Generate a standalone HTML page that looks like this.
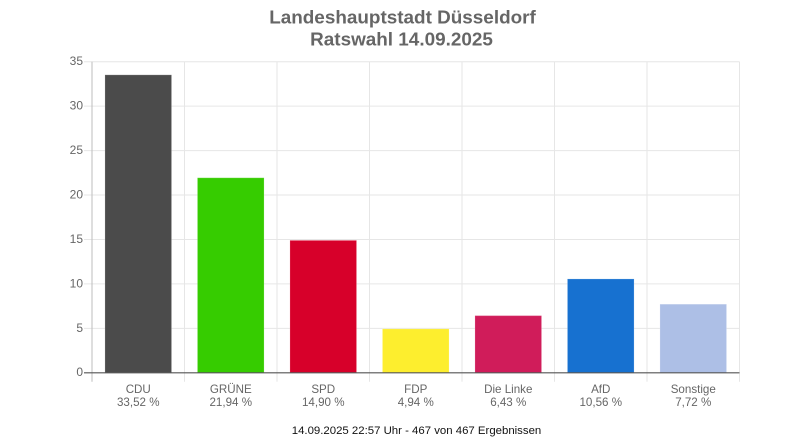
<!DOCTYPE html>
<html lang="de">
<head>
<meta charset="utf-8">
<title>Landeshauptstadt Düsseldorf – Ratswahl 14.09.2025</title>
<style>
html,body{margin:0;padding:0;background:#fff;width:800px;height:445px;overflow:hidden}
svg{display:block;filter:blur(0.35px)}
text{font-family:"Liberation Sans",Arial,sans-serif}
</style>
</head>
<body>
<svg id="chart" xmlns="http://www.w3.org/2000/svg" width="800" height="445" viewBox="0 0 800 445">
  <text x="402.5" y="23.5" text-anchor="middle" font-size="18.9" font-weight="bold" fill="#666">Landeshauptstadt Düsseldorf</text>
  <text x="401.5" y="45.5" text-anchor="middle" font-size="18.9" font-weight="bold" fill="#666">Ratswahl 14.09.2025</text>
  <text x="416.5" y="434" text-anchor="middle" font-size="11.4" fill="#111">14.09.2025 22:57 Uhr - 467 von 467 Ergebnissen</text>
  <g id="grid"></g>
  <g id="bars"></g>
  <g id="axes"></g>
</svg>
<script>
const categories = ["CDU", "GRÜNE", "SPD", "FDP", "Die Linke", "AfD", "Sonstige"];
const seriesValues = [33.52, 21.94, 14.90, 4.94, 6.43, 10.56, 7.72];
const valueLabels = ["33,52 %", "21,94 %", "14,90 %", "4,94 %", "6,43 %", "10,56 %", "7,72 %"];
const barColors = ["#4b4b4b", "#36cc00", "#d7002a", "#fdee2e", "#d01c5a", "#1771d0", "#adbfe6"];
const yTicks = [0, 5, 10, 15, 20, 25, 30, 35];

const SVG_NS = "http://www.w3.org/2000/svg";
const plotLeft = 92, plotRight = 739.5, plotTop = 61.7, plotBottom = 372.8;
const yMax = yTicks[yTicks.length - 1];
const bandWidth = (plotRight - plotLeft) / categories.length;
const barWidth = bandWidth * 0.72;

function yScale(v) { return plotBottom - (v / yMax) * (plotBottom - plotTop); }
function xBand(i) { return plotLeft + i * bandWidth; }
function make(tag, attrs, parent) {
  const el = document.createElementNS(SVG_NS, tag);
  for (const k in attrs) el.setAttribute(k, attrs[k]);
  parent.appendChild(el);
  return el;
}

const grid = document.getElementById("grid");
const barsGroup = document.getElementById("bars");
const axes = document.getElementById("axes");

yTicks.forEach(function (t) {
  const y = yScale(t);
  if (t !== 0) {
    const line = make("line", { x1: plotLeft - 8, x2: plotRight, y1: y, y2: y, stroke: "#e6e6e6", "stroke-width": 1 }, grid);
    
    
  }
  const label = make("text", { x: plotLeft - 9, y: y + 3.4, "text-anchor": "end", "font-size": 12, fill: "#666" }, axes);
  label.textContent = String(t);
  
  
});

for (let i = 1; i <= categories.length; i++) {
  const x = xBand(i);
  const line = make("line", { x1: x, x2: x, y1: plotTop, y2: plotBottom + 9, stroke: "#e6e6e6", "stroke-width": 1 }, grid);
  
  
}

categories.forEach(function (name, i) {
  const center = xBand(i) + bandWidth / 2;
  const top = yScale(seriesValues[i]);
  const bar = make("rect", {
    x: center - barWidth / 2, y: top,
    width: barWidth, height: plotBottom - top,
    fill: barColors[i], stroke: "rgba(255,255,255,0.18)", "stroke-width": 1
  }, barsGroup);
  
  

  const catLabel = make("text", { x: center, y: 393, "text-anchor": "middle", "font-size": 11.6, fill: "#666" }, axes);
  catLabel.textContent = name;
  
  

  const valLabel = make("text", { x: center, y: 406, "text-anchor": "middle", "font-size": 11.6, fill: "#666" }, axes);
  valLabel.textContent = valueLabels[i];
  
  
});

const yAxis = make("line", { x1: plotLeft, x2: plotLeft, y1: plotTop, y2: plotBottom + 9, stroke: "#bdbdbd", "stroke-width": 1 }, axes);



const xAxis = make("line", { x1: plotLeft - 8, x2: plotRight, y1: plotBottom, y2: plotBottom, stroke: "#555", "stroke-width": 1.2 }, axes);


</script>
</body>
</html>
